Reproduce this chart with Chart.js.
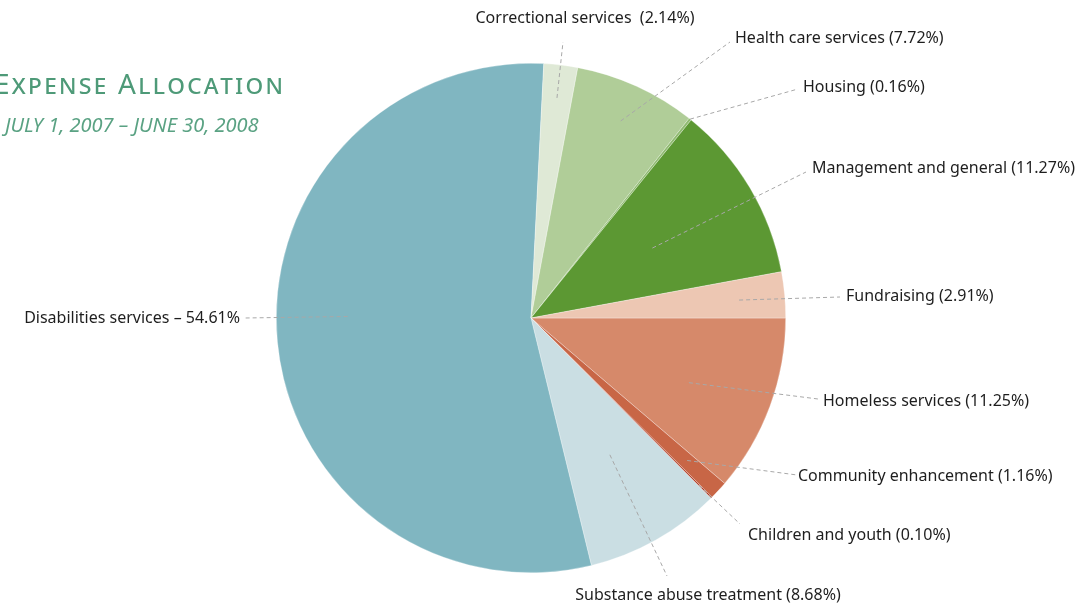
<!DOCTYPE html>
<html>
<head>
<meta charset="utf-8">
<script src="https://cdn.jsdelivr.net/npm/chart.js@4"></script>
<style>
  html, body { margin: 0; padding: 0; background: #fff; overflow: hidden; }
  #wrap { position: relative; width: 1078px; height: 608px; }
  #titulo {
    position: absolute; left: -6px; top: 64px;
    font-family: 'Noto Sans', sans-serif; font-size: 28px;
    font-variant: small-caps; letter-spacing: 2.3px; color: #4e9a78;
    white-space: nowrap;
  }
  #subtitulo {
    position: absolute; left: 5px; top: 111px;
    font-family: 'Noto Sans', sans-serif; font-size: 20px; font-style: italic;
    color: #5aa283; white-space: nowrap;
  }
</style>
</head>
<body>
<div id="wrap">
  <canvas id="graficaGastos" width="1078" height="608"></canvas>
  <div id="titulo">Expense Allocation</div>
  <div id="subtitulo">JULY 1, 2007 – JUNE 30, 2008</div>
</div>
<script>
// categorías en orden horario, empezando a las 3 en punto
const categorias = [
    "Homeless services",
    "Community enhancement",
    "Children and youth",
    "Substance abuse treatment",
    "Disabilities services",
    "Correctional services",
    "Health care services",
    "Housing",
    "Management and general",
    "Fundraising"
];

const porcentajes = [11.25, 1.16, 0.10, 8.68, 54.61, 2.14, 7.72, 0.16, 11.27, 2.91];

const coloresGrafica = [
    "#d6896a",
    "#c86646",
    "#b03a22",
    "#cadee3",
    "#80b6c1",
    "#dfe9d6",
    "#b0cd98",
    "#8fba70",
    "#5c9833",
    "#edc7b3"
];

// donde va cada etiqueta: f = fracción del radio donde empieza la guía,
// t = posición dentro del ángulo del trozo, fin = final de la guía, txt = texto
const posEtiquetas = [
    { f: 0.67, t: 0.55, fin: [818, 399], txt: [823, 401], align: "left" },
    { f: 0.83, t: 0.45, fin: [797, 475], txt: [798, 476], align: "left" },
    { f: 0.93, t: 0.5,  fin: [740, 524], txt: [748, 535], align: "left" },
    { f: 0.62, t: 0.48, fin: [667, 576], txt: [708, 595], align: "center" },
    { f: 0.72, t: 0.53, fin: [245, 318], txt: [240, 318], align: "right" },
    { f: 0.87, t: 0.5,  fin: [563, 42], txt: [585, 18], align: "center" },
    { f: 0.85, t: 0.5,  fin: [730, 42], txt: [735, 38], align: "left" },
    { f: 1.00, t: 0.5,  fin: [798, 89], txt: [803, 87], align: "left" },
    { f: 0.55, t: 0.52, fin: [806, 172], txt: [812, 168], align: "left" },
    { f: 0.82, t: 0.53, fin: [840, 297], txt: [846, 296], align: "left" }
];

function textoEtiqueta(i) {
    const v = porcentajes[i].toFixed(2);
    if (categorias[i] === "Disabilities services") return categorias[i] + " – " + v + "%";
    if (categorias[i] === "Correctional services") return categorias[i] + "  (" + v + "%)";
    return categorias[i] + " (" + v + "%)";
}

const etiquetasGuia = {
    id: "etiquetasGuia",
    afterDraw(chart) {
        const ctx = chart.ctx;
        const arcos = chart.getDatasetMeta(0).data;
        ctx.save();
        arcos.forEach((arco, i) => {
            const p = arco.getProps(["x", "y", "startAngle", "endAngle", "outerRadius"], true);
            const cfg = posEtiquetas[i];
            const ang = p.startAngle + (p.endAngle - p.startAngle) * cfg.t;
            const x0 = p.x + Math.cos(ang) * p.outerRadius * cfg.f;
            const y0 = p.y + Math.sin(ang) * p.outerRadius * cfg.f;
            ctx.beginPath();
            ctx.setLineDash([4, 3]);
            ctx.strokeStyle = "#a8a8a8";
            ctx.lineWidth = 1;
            ctx.moveTo(x0, y0);
            ctx.lineTo(cfg.fin[0], cfg.fin[1]);
            ctx.stroke();
            ctx.setLineDash([]);
            ctx.fillStyle = "#1e1e1e";
            ctx.font = "16px 'Noto Sans'";
            ctx.textAlign = cfg.align;
            ctx.textBaseline = "middle";
            ctx.fillText(textoEtiqueta(i), cfg.txt[0], cfg.txt[1]);
        });
        ctx.restore();
    }
};

new Chart(document.getElementById("graficaGastos"), {
    type: "pie",
    data: {
        labels: categorias,
        datasets: [{
            data: porcentajes,
            backgroundColor: coloresGrafica,
            borderWidth: 0.6,
            borderColor: "rgba(255,255,255,0.5)"
        }]
    },
    options: {
        responsive: false,
        animation: false,
        rotation: 90,
        layout: { padding: { left: 276, right: 292, top: 63, bottom: 35 } },
        plugins: {
            legend: { display: false },
            tooltip: { enabled: false }
        }
    },
    plugins: [etiquetasGuia]
});
</script>
</body>
</html>
